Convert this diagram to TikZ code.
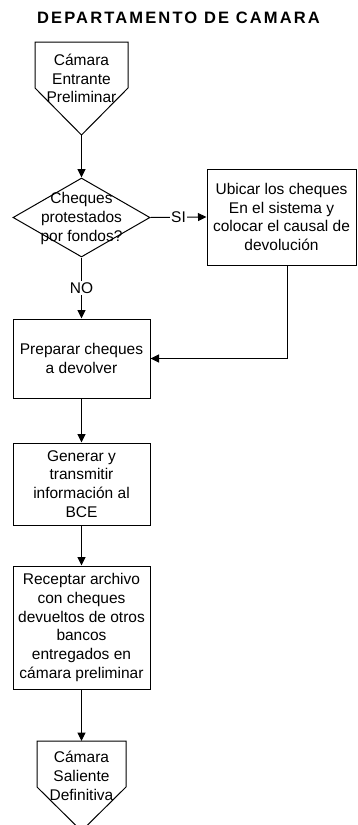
\documentclass[tikz,border=0pt]{standalone}
\usepackage{fontspec}
\setmainfont{Liberation Sans}
\usetikzlibrary{arrows.meta,shapes.geometric}
\begin{document}
\begin{tikzpicture}[x=1pt,y=-1pt,
  every node/.style={font=\fontsize{15.5}{18.7}\selectfont, inner sep=0pt},
  flow/.style={draw=black, line width=1pt},
  arr/.style={flow, -{Triangle[width=8pt,length=8.5pt]}},
  procbox/.style={draw=black, line width=1pt, rectangle, minimum width=137pt, align=center},
  txt/.style={align=center},
  lbl/.style={fill=white, inner sep=1.5pt}
]
\useasboundingbox (0,0) rectangle (357,825);

% heading
\node[font=\bfseries\fontsize{16.5}{19}\selectfont\addfontfeatures{LetterSpace=13}] (title) at (178.5,18) {DEPARTAMENTO DE CAMARA};

% incoming off-page connector
\coordinate (inTL) at (35,42);
\coordinate (inTR) at (128,42);
\coordinate (inR) at (128,88);
\coordinate (inTip) at (81.5,135);
\coordinate (inL) at (35,88);
\draw[flow] (inTL) -- (inTR) -- (inR) -- (inTip) -- (inL) -- cycle;
\node[txt] (entrada) at (81.5,78.5) {Cámara\\Entrante\\Preliminar};

% decision
\node[diamond, draw=black, line width=1pt, minimum width=137pt, minimum height=79pt, inner sep=0pt] (dec) at (81.5,217.5) {};
\node[txt] (decq) at (81.5,218.5) {Cheques\\protestados\\por fondos?};

% process boxes
\node[procbox, minimum width=149pt, minimum height=96pt] (ubicar) at (281.5,217) {Ubicar los cheques\\En el sistema y\\colocar el causal de\\devolución};
\node[procbox, minimum height=79pt] (prep) at (81.5,358.5) {Preparar cheques\\a devolver};
\node[procbox, minimum height=82pt] (gen) at (81.5,484) {Generar y\\transmitir\\información al\\BCE};
\node[procbox, minimum height=123pt] (rec) at (81.5,627.5) {Receptar archivo\\con cheques\\devueltos de otros\\bancos\\entregados en\\cámara preliminar};

% outgoing off-page connector
\coordinate (outTL) at (37,741);
\coordinate (outTop) at (81.5,741);
\coordinate (outTR) at (126,741);
\coordinate (outR) at (126,787);
\coordinate (outTip) at (81.5,831);
\coordinate (outL) at (37,787);
\draw[flow] (outTL) -- (outTR) -- (outR) -- (outTip) -- (outL) -- cycle;
\node[txt] (salida) at (81.5,775.7) {Cámara\\Saliente\\Definitiva};

% connectors
\draw[arr] (inTip) -- (dec.north);
\draw[arr] (dec.east) -- node[lbl] (si) {SI} (ubicar.west);
\draw[arr] (dec.south) -- node[lbl] (no) {NO} (prep.north);
\coordinate (ubicarOut) at ([xshift=5.5pt]ubicar.south);
\draw[arr] (ubicarOut) |- (prep.east);
\draw[arr] (prep.south) -- (gen.north);
\draw[arr] (gen.south) -- (rec.north);
\draw[arr] (rec.south) -- (outTop);
\end{tikzpicture}
\end{document}
